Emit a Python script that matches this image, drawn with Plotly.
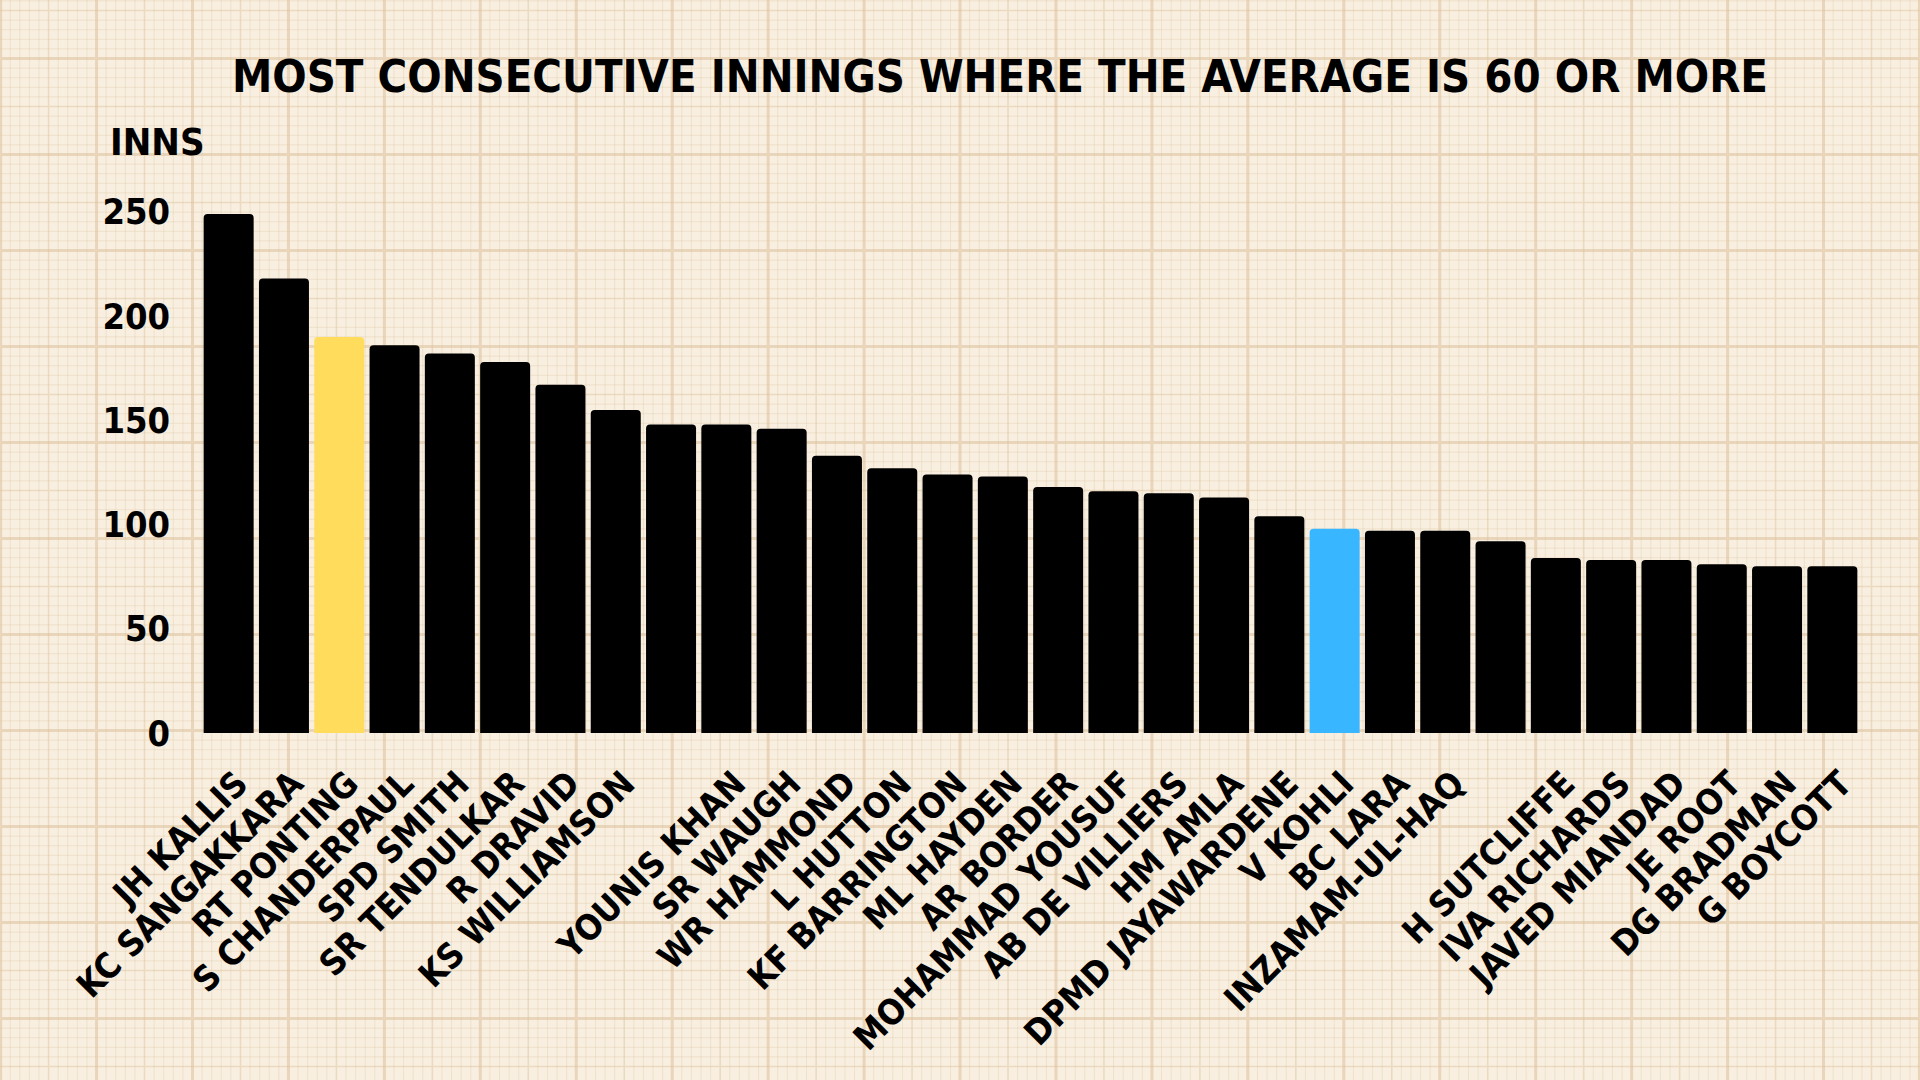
import plotly.graph_objects as go

# ---- data ----
players = ["JH KALLIS", "KC SANGAKKARA", "RT PONTING", "S CHANDERPAUL", "SPD SMITH",
           "SR TENDULKAR", "R DRAVID", "KS WILLIAMSON", "", "YOUNIS KHAN",
           "SR WAUGH", "WR HAMMOND", "L HUTTON", "KF BARRINGTON", "ML HAYDEN",
           "AR BORDER", "MOHAMMAD YOUSUF", "AB DE VILLIERS", "HM AMLA", "DPMD JAYAWARDENE",
           "V KOHLI", "BC LARA", "INZAMAM-UL-HAQ", "", "H SUTCLIFFE",
           "IVA RICHARDS", "JAVED MIANDAD", "JE ROOT", "DG BRADMAN", "G BOYCOTT"]
innings = [249, 218, 190, 186, 182, 178, 167, 155, 148, 148,
           146, 133, 127, 124, 123, 118, 116, 115, 113, 104,
           98, 97, 97, 92, 84, 83, 83, 81, 80, 80]
highlight = {"RT PONTING": "#FFDC5C", "V KOHLI": "#38B6FF"}
y_ticks = [0, 50, 100, 150, 200, 250]

title_text = "MOST CONSECUTIVE INNINGS WHERE THE AVERAGE IS 60 OR MORE"
y_title = "INNS"

# ---- layout geometry ----
W, H = 1920, 1080
L, R, T, B = 200.5, 59.5, 191, 347
PW, PH = W - L - R, H - T - B
BG = "#F8EFE0"
LABEL_SHIFT = 0.16  # tick labels sit slightly right of bar centres in the reference

FONT = "Liberation Sans Narrow, DejaVu Sans Condensed, Roboto, sans-serif"

colors = [highlight.get(p, "#000000") for p in players]
xs = list(range(len(players)))

fig = go.Figure()
fig.add_trace(go.Bar(
    x=xs, y=innings,
    marker=dict(color=colors, line=dict(width=0), cornerradius=4),
    hoverinfo="skip",
))


# ---- graph-paper background (decoration) ----
def px2paper_x(px):
    return (px - L) / PW


def px2paper_y(py):
    return (H - B - py) / PH


step = 9.6
paths = {"minor": [], "mid": [], "major": []}
k = 0
while k * step <= W + 1:
    x = k * step
    kind = "major" if k % 10 == 0 else ("mid" if k % 5 == 0 else "minor")
    paths[kind].append(f"M{px2paper_x(x):.5f},{px2paper_y(0):.5f}L{px2paper_x(x):.5f},{px2paper_y(H):.5f}")
    k += 1
y0 = 58.5
for k in range(-7, 106):
    y = y0 + k * step
    if y < 0 or y > H:
        continue
    kind = "major" if k % 10 == 0 else ("mid" if k % 5 == 0 else "minor")
    paths[kind].append(f"M{px2paper_x(0):.5f},{px2paper_y(y):.5f}L{px2paper_x(W):.5f},{px2paper_y(y):.5f}")

styles = {
    "minor": dict(color="rgba(222,196,160,0.33)", width=1),
    "mid": dict(color="rgba(222,196,160,0.50)", width=1.5),
    "major": dict(color="rgba(220,192,155,0.55)", width=3),
}
for kind in ["minor", "mid", "major"]:
    fig.add_shape(type="path", path="".join(paths[kind]), xref="paper", yref="paper",
                  line=styles[kind], layer="below")

fig.add_annotation(text=y_title, xref="paper", yref="paper",
                   x=px2paper_x(107), y=px2paper_y(142), xanchor="left", yanchor="middle",
                   showarrow=False, font=dict(family=FONT, size=38, color="#000000", weight="bold"))

xrange = [-0.5, len(players) - 0.5]
fig.update_layout(
    width=W, height=H,
    margin=dict(l=L, r=R, t=T, b=B, autoexpand=False),
    paper_bgcolor=BG,
    plot_bgcolor="rgba(0,0,0,0)",
    showlegend=False,
    bargap=0.096,
    title=dict(text=title_text, xref="container", yref="container",
               x=1000 / W, y=1 - 76 / H, xanchor="center", yanchor="middle",
               font=dict(family=FONT, size=45, color="#000000", weight="bold")),
    xaxis=dict(range=xrange, showticklabels=False,
               showgrid=False, zeroline=False, showline=False, ticks=""),
    xaxis2=dict(overlaying="x", anchor="y", side="bottom", range=xrange,
                tickvals=[i + LABEL_SHIFT for i in xs], ticktext=players, tickangle=-45,
                showgrid=False, zeroline=False, showline=False, ticks="", ticklabelstandoff=22,
                tickfont=dict(family=FONT, size=35, color="#000000", weight="bold")),
    yaxis=dict(range=[0, 260], tickvals=y_ticks, showgrid=False, zeroline=False, showline=False,
               ticks="", ticklabelstandoff=30,
               tickfont=dict(family=FONT, size=36, color="#000000", weight="bold")),
)
# invisible helper trace so the label axis is drawn
fig.add_trace(go.Scatter(x=[xrange[0]], y=[0], xaxis="x2", yaxis="y", mode="markers",
                         marker=dict(opacity=0), hoverinfo="skip", showlegend=False))

fig.write_html("out.html", config={"displayModeBar": False},
               post_script="document.body.style.margin='0px';document.body.style.background='" + BG + "';")
